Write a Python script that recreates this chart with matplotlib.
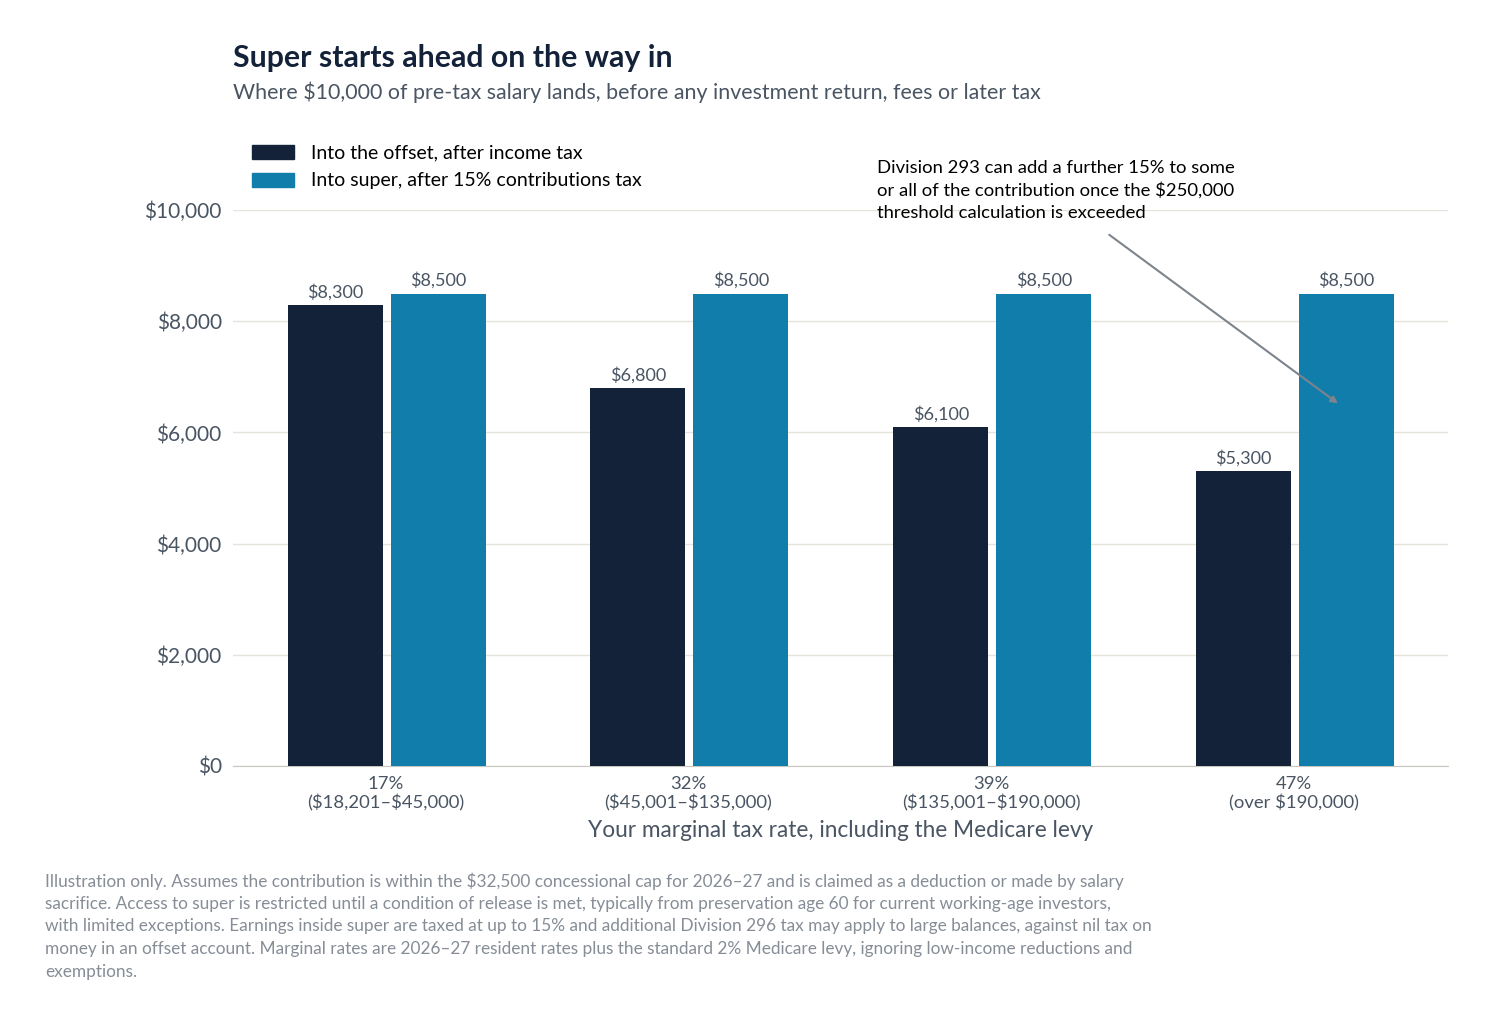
import matplotlib
matplotlib.use("Agg")
import matplotlib.pyplot as plt
from matplotlib.patches import Rectangle

plt.rcParams['font.family'] = ['Lato', 'DejaVu Sans']
plt.rcParams['text.parse_math'] = False

categories = ["17%\n($18,201–$45,000)", "32%\n($45,001–$135,000)",
              "39%\n($135,001–$190,000)", "47%\n(over $190,000)"]
offset_vals = [8300, 6800, 6100, 5300]
super_vals = [8500, 8500, 8500, 8500]
yticks = [0, 2000, 4000, 6000, 8000, 10000]

DARK = "#132238"
TEAL = "#107dab"
GRAY = "#4a5563"

fig = plt.figure(figsize=(14.92, 10.25), dpi=100)
ax = fig.add_axes([0.156, 0.2527, 0.8145, 0.5423])

x = list(range(len(categories)))
w = 0.314
b1 = ax.bar([i - 0.167 for i in x], offset_vals, w, color=DARK, zorder=3)
b2 = ax.bar([i + 0.173 for i in x], super_vals, w, color=TEAL, zorder=3)
for bars, vals in ((b1, offset_vals), (b2, super_vals)):
    for r, v in zip(bars, vals):
        ax.text(r.get_x() + r.get_width() / 2, v + 80, f"${v:,}", ha="center",
                va="bottom", fontsize=13, color=GRAY)

ax.set_xlim(-0.505, 3.508)
ax.set_ylim(0, 10000)
ax.set_yticks(yticks)
ax.set_yticklabels([f"${v:,}" for v in yticks], fontsize=15, color=GRAY)
ax.set_xticks(x)
ax.set_xticklabels(categories, fontsize=13.3, color=GRAY)
ax.tick_params(length=0, axis='both')
ax.tick_params(axis='y', pad=8)
ax.tick_params(axis='x', pad=7)
ax.grid(axis='y', color="#e5e3da", lw=1, zorder=0)
for s in ("top", "right", "left"):
    ax.spines[s].set_visible(False)
ax.spines["bottom"].set_color("#c8c8c0")
ax.set_xlabel("Your marginal tax rate, including the Medicare levy", fontsize=16.3,
              color=GRAY, labelpad=6)

ax.annotate("", xy=(3.152, 6493), xytext=(2.382, 9586),
            arrowprops=dict(arrowstyle="-|>", color="#7d848c", lw=1.5), annotation_clip=False)
fig.text(877/1492, 1 - 160/1025, "Division 293 can add a further 15% to some\nor all of the contribution once the $250,000\nthreshold calculation is exceeded",
         fontsize=13.3, color="black", va="top", ha="left", linespacing=1.45)

fig.text(233/1492, 1 - 58/1025, "Super starts ahead on the way in", fontsize=21.8,
         fontweight="bold", color=DARK, va="center")
fig.text(233/1492, 1 - 92/1025, "Where $10,000 of pre-tax salary lands, before any investment return, fees or later tax",
         fontsize=15.4, color=GRAY, va="center")

for yy, lab, c in ((152, "Into the offset, after income tax", DARK),
                   (180, "Into super, after 15% contributions tax", TEAL)):
    fig.patches.append(Rectangle((252/1492, 1 - (yy + 7)/1025), 42/1492, 14/1025,
                                 transform=fig.transFigure, color=c))
    fig.text(311/1492, 1 - (yy + 1)/1025, lab, fontsize=14, color="black", va="center")

fig.text(45/1492, 1 - 872/1025,
         "Illustration only. Assumes the contribution is within the $32,500 concessional cap for 2026–27 and is claimed as a deduction or made by salary\n"
         "sacrifice. Access to super is restricted until a condition of release is met, typically from preservation age 60 for current working-age investors,\n"
         "with limited exceptions. Earnings inside super are taxed at up to 15% and additional Division 296 tax may apply to large balances, against nil tax on\n"
         "money in an offset account. Marginal rates are 2026–27 resident rates plus the standard 2% Medicare levy, ignoring low-income reductions and\n"
         "exemptions.",
         fontsize=12.4, color="#868d96", va="top", linespacing=1.5)

fig.savefig("out.png", dpi=100)
